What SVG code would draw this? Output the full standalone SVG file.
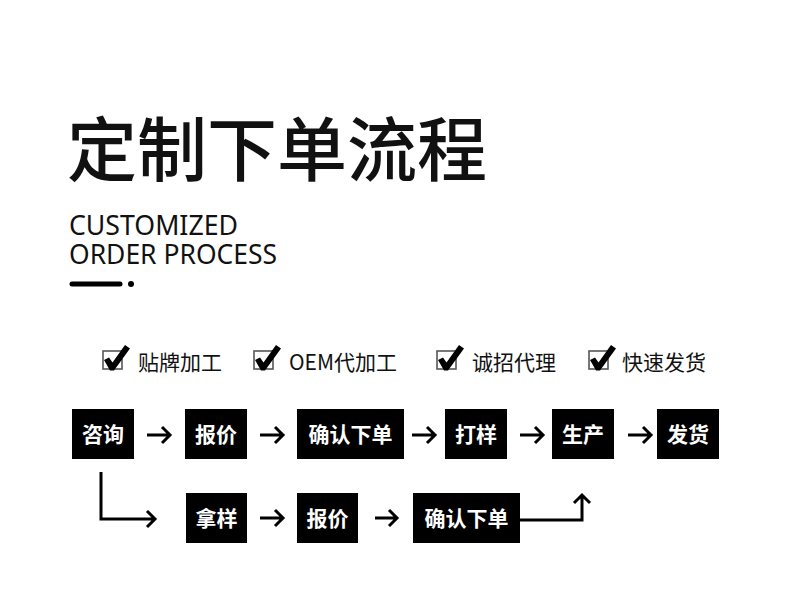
<svg xmlns="http://www.w3.org/2000/svg" width="790" height="595" viewBox="0 0 790 595">
<style>
.title{font-family:"Noto Sans CJK SC","Noto Sans",sans-serif;font-size:70px;font-weight:500;fill:#111}
.en{font-family:"Noto Sans","Open Sans",sans-serif;font-size:28px;fill:#111}
.opt{font-family:"Noto Sans CJK SC","Noto Sans",sans-serif;font-size:21px;fill:#111}
.box{fill:#000}
.lbl{font-family:"Noto Sans CJK SC",sans-serif;font-size:21px;font-weight:700;fill:#fff;text-anchor:middle}
.cb{fill:#fff;stroke:#555;stroke-width:1.6}
.ck{fill:#000}
.arr{fill:none;stroke:#000;stroke-width:3;stroke-linecap:butt;stroke-linejoin:miter}
</style>
<rect width="790" height="595" fill="#fff"/>
<g id="header">
<text class="title" x="67" y="176">定制下单流程</text>
<text class="en" x="69" y="235" textLength="169" lengthAdjust="spacingAndGlyphs">CUSTOMIZED</text>
<text class="en" x="69" y="264" textLength="208" lengthAdjust="spacingAndGlyphs">ORDER PROCESS</text>
<line x1="72" y1="284" x2="120" y2="284" stroke="#000" stroke-width="5" stroke-linecap="round"/>
<circle cx="131" cy="284" r="3" fill="#000"/>
</g>
<defs>
<g id="check">
<rect class="cb" x="0" y="0" width="19" height="18"/>
<path class="ck" d="M1 9 L6 6.5 L9.5 11.5 L22 -6 L27 -2.5 L11 19.5 L7 19.5 Z"/>
</g>
</defs>
<g id="opt1"><use href="#check" x="103" y="351"/><text class="opt" x="138" y="370">贴牌加工</text></g>
<g id="opt2"><use href="#check" x="254" y="351"/><text class="opt" x="289" y="370">OEM代加工</text></g>
<g id="opt3"><use href="#check" x="437" y="351"/><text class="opt" x="472" y="370">诚招代理</text></g>
<g id="opt4"><use href="#check" x="589" y="351"/><text class="opt" x="622" y="370">快速发货</text></g>
<g id="n-zixun"><rect class="box" x="72" y="409" width="62" height="50"/><text class="lbl" x="103" y="442">咨询</text></g>
<g id="n-baojia1"><rect class="box" x="185" y="409" width="62" height="50"/><text class="lbl" x="216" y="442">报价</text></g>
<g id="n-queren1"><rect class="box" x="297" y="409" width="107" height="50"/><text class="lbl" x="350.5" y="442">确认下单</text></g>
<g id="n-dayang"><rect class="box" x="445" y="409" width="62" height="50"/><text class="lbl" x="476" y="442">打样</text></g>
<g id="n-shengchan"><rect class="box" x="552" y="409" width="62" height="50"/><text class="lbl" x="583" y="442">生产</text></g>
<g id="n-fahuo"><rect class="box" x="657" y="409" width="62" height="50"/><text class="lbl" x="688" y="442">发货</text></g>
<g id="n-nayang"><rect class="box" x="186" y="493" width="61" height="50"/><text class="lbl" x="216.5" y="526">拿样</text></g>
<g id="n-baojia2"><rect class="box" x="297" y="493" width="61" height="50"/><text class="lbl" x="327.5" y="526">报价</text></g>
<g id="n-queren2"><rect class="box" x="413" y="493" width="107" height="50"/><text class="lbl" x="466.5" y="526">确认下单</text></g>
<g id="connectors">
<path class="arr" d="M147 435 H170 M162 427 L170 435 L162 443"/>
<path class="arr" d="M260 435 H283 M275 427 L283 435 L275 443"/>
<path class="arr" d="M412 435 H435 M427 427 L435 435 L427 443"/>
<path class="arr" d="M520 435 H543 M535 427 L543 435 L535 443"/>
<path class="arr" d="M628 435 H651 M643 427 L651 435 L643 443"/>
<path class="arr" d="M101 472 V519 H155 M147 511 L155 519 L147 527"/>
<path class="arr" d="M260 518 H283 M275 510 L283 518 L275 526"/>
<path class="arr" d="M375 518 H397 M389 510 L397 518 L389 526"/>
<path class="arr" d="M520 520 H582 V495 M574 503 L582 495 L590 503"/>
</g>
</svg>
